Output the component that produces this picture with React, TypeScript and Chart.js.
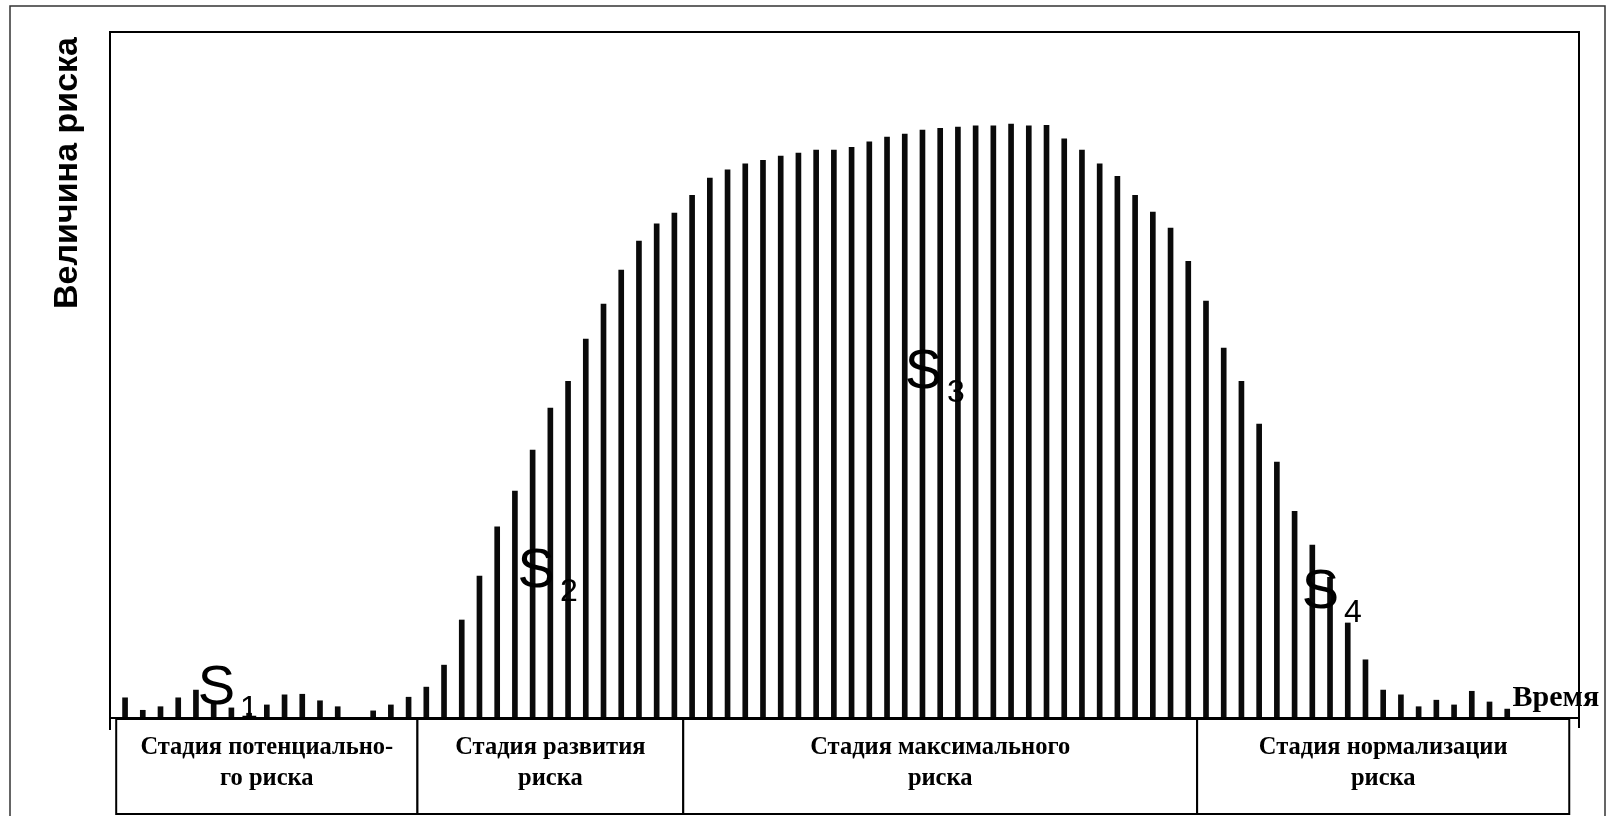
import React, { useEffect, useRef } from "react";
import { Chart, registerables } from "chart.js";

Chart.register(...registerables);

// Risk magnitude per time step (peak = 100)
const riskValues = [
  3.4, 1.3, 1.9, 3.4, 4.7, 2.7, 1.7, 0.8, 2.2, 3.9,
  4.0, 2.9, 1.9, 0, 1.2, 2.2, 3.5, 5.2, 8.9, 16.5,
  23.9, 32.2, 38.2, 45.1, 52.2, 56.7, 63.8, 69.7, 75.4, 80.3,
  83.2, 85.0, 88.0, 90.9, 92.3, 93.3, 93.9, 94.6, 95.1, 95.6,
  95.6, 96.1, 97.0, 97.8, 98.3, 99.0, 99.3, 99.5, 99.7, 99.7,
  100, 99.7, 99.8, 97.5, 95.6, 93.3, 91.2, 88.0, 85.2, 82.5,
  76.9, 70.2, 62.3, 56.7, 49.5, 43.1, 34.8, 29.1, 23.7, 16.0,
  9.8, 4.7, 3.9, 1.9, 3.0, 2.2, 4.5, 2.7, 1.5,
];

// Stage boundaries in time-step units
const stageBounds = [-0.5, 16.5, 31.5, 60.5, 81.5];
const stageLines = [
  ["Стадия потенциально-", "го риска"],
  ["Стадия развития", "риска"],
  ["Стадия максимального", "риска"],
  ["Стадия нормализации", "риска"],
];

// Area labels S1..S4 (anchor in data units: time step, risk value)
const areaSubs = ["1", "2", "3", "4"];
const areaLabelX = [4.1, 22.15, 44.0, 66.4];
const areaLabelY = [2.4, 22.0, 55.6, 18.5];

const yTitle = "Величина риска";
const xTitle = "Время";
const xTitleX = 78.3;
const xTitleY = 2.0;

const X_MIN = -0.85;
const X_MAX = 82.05;
const Y_MAX = 115.5;

const overlayPlugin = {
  id: "overlay",
  beforeDraw(chart: any) {
    const ctx = chart.ctx;
    ctx.save();
    ctx.fillStyle = "#ffffff";
    ctx.fillRect(0, 0, chart.width, chart.height);
    ctx.restore();
  },
  afterDraw(chart: any) {
    const ctx = chart.ctx;
    const a = chart.chartArea;
    const xs = chart.scales.x;
    const ys = chart.scales.y;
    ctx.save();

    // outer border
    ctx.strokeStyle = "#333";
    ctx.lineWidth = 1.5;
    ctx.beginPath();
    ctx.moveTo(10, 820);
    ctx.lineTo(10, 6);
    ctx.lineTo(1605, 6);
    ctx.lineTo(1605, 820);
    ctx.stroke();

    // plot frame
    ctx.strokeStyle = "#000";
    ctx.lineWidth = 2;
    ctx.beginPath();
    ctx.moveTo(a.left, a.bottom + 12);
    ctx.lineTo(a.left, a.top);
    ctx.lineTo(a.right, a.top);
    ctx.lineTo(a.right, a.bottom + 10);
    ctx.stroke();
    ctx.beginPath();
    ctx.moveTo(a.left, a.bottom);
    ctx.lineTo(a.right, a.bottom);
    ctx.stroke();

    // stage boxes
    const boxTop = a.bottom + 1;
    const boxBottom = 814;
    ctx.textAlign = "center";
    ctx.textBaseline = "alphabetic";
    ctx.font = 'bold 24.5px "Liberation Serif", "Times New Roman", serif';
    for (let k = 0; k < stageLines.length; k++) {
      const x0 = xs.getPixelForValue(stageBounds[k]);
      const x1 = xs.getPixelForValue(stageBounds[k + 1]);
      ctx.fillStyle = "#fff";
      ctx.fillRect(x0, boxTop, x1 - x0, boxBottom - boxTop);
      ctx.lineWidth = 2;
      ctx.strokeStyle = "#000";
      ctx.strokeRect(x0, boxTop, x1 - x0, boxBottom - boxTop);
      ctx.fillStyle = "#000";
      const cx = (x0 + x1) / 2;
      ctx.fillText(stageLines[k][0], cx, boxTop + 35);
      ctx.fillText(stageLines[k][1], cx, boxTop + 66);
    }

    // S labels
    ctx.textAlign = "left";
    for (let k = 0; k < areaSubs.length; k++) {
      const px = xs.getPixelForValue(areaLabelX[k]);
      const py = ys.getPixelForValue(areaLabelY[k]);
      ctx.font = '56px "Liberation Sans", Arial, sans-serif';
      ctx.fillText("S", px, py);
      const w = ctx.measureText("S").width;
      ctx.font = '32px "Liberation Sans", Arial, sans-serif';
      ctx.fillText(areaSubs[k], px + w + 5, py + 14);
    }

    // x title
    ctx.font = 'bold 30px "Liberation Serif", "Times New Roman", serif';
    ctx.fillText(xTitle, xs.getPixelForValue(xTitleX), ys.getPixelForValue(xTitleY));

    // y title
    ctx.save();
    ctx.translate(77, 173);
    ctx.rotate(-Math.PI / 2);
    ctx.textAlign = "center";
    ctx.font = 'bold 34px "Liberation Sans", Arial, sans-serif';
    ctx.fillText(yTitle, 0, 0);
    ctx.restore();

    ctx.restore();
  },
};

export default function App() {
  const ref = useRef<HTMLCanvasElement | null>(null);

  useEffect(() => {
    if (!ref.current) return;
    const chart = new Chart(ref.current, {
      type: "bar",
      data: {
        datasets: [
          {
            data: riskValues.map((v, i) => ({ x: i, y: v })),
            backgroundColor: "#0a0a0a",
            borderWidth: 0,
            barThickness: 5,
          } as any,
        ],
      },
      options: {
        animation: false,
        responsive: false,
        devicePixelRatio: 1,
        layout: { padding: { left: 110, right: 31, top: 32, bottom: 98 } },
        plugins: {
          legend: { display: false },
          tooltip: { enabled: false },
        },
        scales: {
          x: { type: "linear", min: X_MIN, max: X_MAX, offset: false, display: false },
          y: { min: 0, max: Y_MAX, display: false },
        },
      },
      plugins: [overlayPlugin],
    });
    return () => chart.destroy();
  }, []);

  return (
    <div style={{ position: "fixed", left: 0, top: 0, width: 1610, height: 816, background: "#fff" }}>
      <canvas ref={ref} width={1610} height={816} style={{ display: "block" }} />
    </div>
  );
}
